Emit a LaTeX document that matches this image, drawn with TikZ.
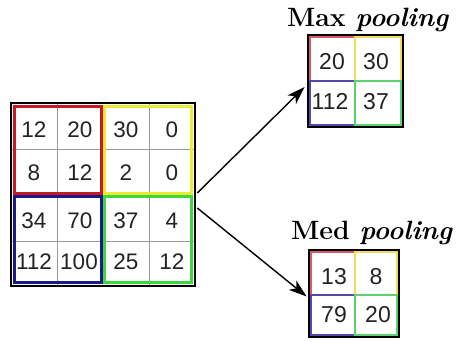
\documentclass[tikz,border=0pt]{standalone}
\usepackage{fontspec}
\newfontfamily\numfont{Liberation Sans}
\usetikzlibrary{arrows.meta}
\definecolor{qred}{RGB}{200,25,35}
\definecolor{qyellow}{RGB}{235,235,50}
\definecolor{qblue}{RGB}{25,25,140}
\definecolor{qgreen}{RGB}{60,215,60}
\definecolor{lred}{RGB}{215,90,110}
\definecolor{lyellow}{RGB}{240,220,90}
\definecolor{lblue}{RGB}{90,70,170}
\definecolor{lgreen}{RGB}{90,210,110}
\definecolor{numgray}{RGB}{35,35,35}
\tikzset{
  num/.style={font=\numfont\fontsize{22.5}{24}\selectfont, text=numgray, inner sep=0pt, anchor=center},
  snum/.style={font=\numfont\fontsize{23}{25}\selectfont, text=numgray, inner sep=0pt, anchor=center},
  cellline/.style={draw=gray!80, line width=1pt},
  outer/.style={draw=black, line width=2.6pt, rectangle, inner sep=0pt},
  quad/.style={line width=2.4pt},
  squad/.style={line width=1.2pt},
  lbl/.style={font=\fontsize{26.5}{30}\selectfont\bfseries, inner sep=0pt, anchor=base west},
  arr/.style={line width=1.4pt, -{Stealth[length=18pt,width=12pt,inset=5pt]}}
}
\begin{document}
\begin{tikzpicture}[x=1pt,y=-1pt]
\useasboundingbox (0,0) rectangle (457,342);
\fill[white] (0,0) rectangle (457,342);
% big grid
\draw[cellline] (57,103) -- (57,286) (149,103) -- (149,286) (11,149) -- (195,149) (11,241) -- (195,241);
\draw[quad, qred] (14.5,106.5) rectangle (101.5,193.5);
\draw[quad, qyellow] (104.5,106.5) rectangle (191.5,193.5);
\draw[quad, qblue] (14.5,196.5) rectangle (101.5,282.5);
\draw[quad, qgreen] (104.5,196.5) rectangle (191.5,282.5);
\node[outer, minimum width=184pt, minimum height=183pt] (big) at (103,194.5) {};
\node[num] (b11) at (34,130) {12};
\node[num] (b12) at (80,130) {20};
\node[num] (b13) at (126,130) {30};
\node[num] (b14) at (172,130) {0};
\node[num] (b21) at (34,173) {8};
\node[num] (b22) at (80,173) {12};
\node[num] (b23) at (126,173) {2};
\node[num] (b24) at (172,173) {0};
\node[num] (b31) at (34,221) {34};
\node[num] (b32) at (80,221) {70};
\node[num] (b33) at (126,221) {37};
\node[num] (b34) at (172,221) {4};
\node[num] (b41) at (34,262) {112};
\node[num] (b42) at (79,262) {100};
\node[num] (b43) at (126,262) {25};
\node[num] (b44) at (172,262) {12};
% max grid
\draw[squad, lred] (310,37) rectangle (355,81);
\draw[squad, lyellow] (355,37) rectangle (401,81);
\draw[squad, lblue] (310,81) rectangle (355,125);
\draw[squad, lgreen] (355,81) rectangle (401,125);
\node[outer, line width=2.8pt, minimum width=95pt, minimum height=92pt] (max) at (355.5,81) {};
\node[snum] (m11) at (332,62) {20};
\node[snum] (m12) at (376,62) {30};
\node[snum] (m21) at (330,101.5) {112};
\node[snum] (m22) at (376,101.5) {37};
\node[lbl] (maxl) at (287,27) {Max \textit{pooling}};
% med grid
\draw[squad, lred] (311,252) rectangle (355,295);
\draw[squad, lyellow] (355,252) rectangle (397,295);
\draw[squad, lblue] (311,295) rectangle (355,335);
\draw[squad, lgreen] (355,295) rectangle (397,335);
\node[outer, line width=2.8pt, minimum width=90pt, minimum height=87pt] (med) at (354,293.5) {};
\node[snum] (d11) at (334,277) {13};
\node[snum] (d12) at (376,277) {8};
\node[snum] (d21) at (334,315) {79};
\node[snum] (d22) at (378,315) {20};
\node[lbl] (medl) at (291,239) {Med \textit{pooling}};
% arrows
\coordinate (s1) at ([xshift=1pt,yshift=1.5pt]big.east);
\coordinate (s2) at ([xshift=1pt,yshift=-13.5pt]big.east);
\draw[arr] (s1) -- ([xshift=-2pt,yshift=-6pt]max.west);
\draw[arr] (s2) -- ([xshift=-1pt,yshift=-3pt]med.west);
\end{tikzpicture}
\end{document}
